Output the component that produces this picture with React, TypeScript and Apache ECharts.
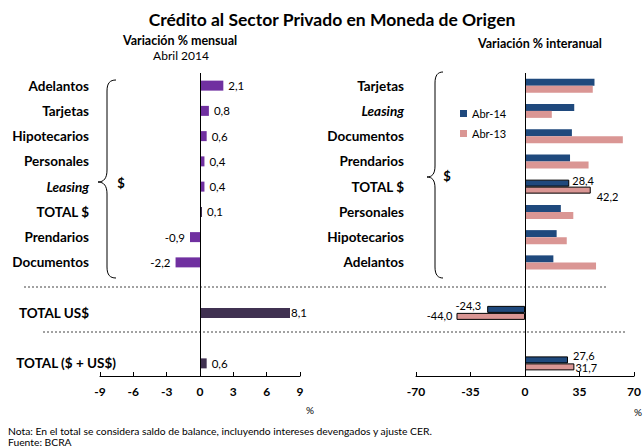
import React, { useEffect, useRef } from "react";
import * as echarts from "echarts";

const FONT = "Lato, 'Noto Sans', sans-serif";

const leftCategories = ["Adelantos", "Tarjetas", "Hipotecarios", "Personales", "Leasing", "TOTAL $", "Prendarios", "Documentos", "gap1", "TOTAL US$", "gap2", "TOTAL ($ + US$)"];
const leftValues = [2.1, 0.8, 0.6, 0.4, 0.4, 0.1, -0.9, -2.2, null, 8.1, null, 0.6];

const rightCategories = ["Tarjetas", "Leasing", "Documentos", "Prendarios", "TOTAL $", "Personales", "Hipotecarios", "Adelantos", "gap1", "TOTAL US$", "gap2", "TOTAL ($ + US$)"];
const abr14Values = [44.6, 31.6, 30.1, 28.9, 28.4, 23.0, 20.3, 18.2, null, -24.3, null, 27.6];
const abr13Values = [43.5, 17.2, 62.8, 40.8, 42.2, 31.0, 26.8, 45.6, null, -44.0, null, 31.7];

const leftTicks = { min: -9, max: 9, interval: 3 };
const rightTicks = { min: -70, max: 70, interval: 35 };

const PURPLE = "#7030A0";
const DARK = "#403151";
const NAVY = "#1F497D";
const PINK = "#DA9694";

const fmt = (v: number) => v.toFixed(1).replace(".", ",");

echarts.graphic.registerShape(
  "braceL",
  echarts.graphic.extendPath(
    "M 116 80 C 110 80 107 83 107 91 L 107 170 C 107 178 104 182 98 182 C 104 182 107 186 107 194 L 107 267 C 107 275 110 278 116 278",
    {}
  )
);
echarts.graphic.registerShape(
  "braceR",
  echarts.graphic.extendPath(
    "M 443 72 C 438 72 435 75 435 83 L 435 166 C 435 174 432 177 427 177 C 432 177 435 180 435 188 L 435 267 C 435 275 438 278 443 278",
    {}
  )
);

export default function App() {
  const ref = useRef<HTMLDivElement>(null);
  useEffect(() => {
    if (!ref.current) return;
    const chart = echarts.init(ref.current, null, { renderer: "svg" });

    const leftData = leftValues.map((v, i) => {
      if (v === null) return null;
      const isTotal = i === 5 || i === 9 || i === 11;
      return {
        value: v,
        itemStyle: { color: isTotal ? DARK : PURPLE },
        label: {
          show: true,
          position: v >= 0 ? "right" : "left",
          distance: i === 9 ? 1 : 5,
        },
      };
    });

    const lblOpts: Record<string, any> = {
      "14-4": { position: "right", distance: 3, offset: [0, -3] },
      "13-4": { position: "right", distance: 6, offset: [0, 6] },
      "14-9": { position: "left", distance: 6, offset: [0, -4] },
      "13-9": { position: "left", distance: 4, offset: [0, -1] },
      "14-11": { position: "right", distance: 5, offset: [0, -4] },
      "13-11": { position: "right", distance: 1, offset: [0, 1] },
    };

    const mkRight = (vals: (number | null)[], key: string, color: string) =>
      vals.map((v, i) => {
        if (v === null) return null;
        const isTotal = i === 4 || i === 9 || i === 11;
        const lo = lblOpts[key + "-" + i];
        return {
          value: v,
          itemStyle: isTotal ? { color, borderColor: "#000", borderWidth: 1 } : { color },
          label: lo ? { show: true, ...lo } : { show: false },
        };
      });

    const CAT_SIZE = 13.5;
    const catLabel = (show: (v: string, i: number) => boolean, margin: number) => ({
      margin,
      fontFamily: FONT,
      fontWeight: "bold",
      fontSize: CAT_SIZE,
      color: "#000",
      formatter: (v: string, i: number) => {
        if (!show(v, i)) return "";
        if (v === "Leasing") return "{i|Leasing}";
        return v;
      },
      rich: {
        i: { fontFamily: FONT, fontWeight: "bold", fontStyle: "italic", fontSize: CAT_SIZE, color: "#000" },
      },
    });

    const valueAxis = (gridIndex: number, t: { min: number; max: number; interval: number }) => ({
      type: "value",
      gridIndex,
      min: t.min,
      max: t.max,
      interval: t.interval,
      splitLine: { show: false },
      axisLine: { show: true, lineStyle: { color: "#000", width: 1 } },
      axisTick: { show: true, inside: true, length: 4, lineStyle: { color: "#000" } },
      axisLabel: { fontFamily: FONT, fontWeight: "bold", fontSize: 12, color: "#000", margin: 9 },
    });

    const zeroLine = {
      silent: true,
      symbol: "none",
      label: { show: false },
      lineStyle: { color: "#000", width: 1, type: "solid" },
      data: [{ xAxis: 0 }],
    };

    const dotted = (x1: number, x2: number, y: number) => ({
      type: "line",
      shape: { x1, y1: y, x2, y2: y },
      style: { stroke: "#444", lineWidth: 1, lineDash: [2, 2] },
      silent: true,
    });

    const valLabel = {
      fontFamily: FONT,
      fontSize: 11.5,
      color: "#000",
      formatter: (p: any) => fmt(p.value),
    };

    chart.setOption({
      animation: false,
      textStyle: { fontFamily: FONT },
      grid: [
        { left: 100, width: 200, top: 73, height: 303 },
        { left: 416, width: 223, top: 73, height: 303 },
      ],
      legend: {
        orient: "vertical",
        left: 460,
        top: 108,
        padding: 0,
        itemGap: 9,
        itemWidth: 7,
        itemHeight: 7,
        icon: "rect",
        textStyle: { fontFamily: FONT, fontSize: 11, color: "#000" },
        data: ["Abr-14", "Abr-13"],
      },
      xAxis: [valueAxis(0, leftTicks), valueAxis(1, rightTicks)],
      yAxis: [
        {
          type: "category",
          gridIndex: 0,
          inverse: true,
          data: leftCategories,
          axisLine: { show: false },
          axisTick: { show: false },
          axisLabel: catLabel((v, i) => i !== 11 && !v.startsWith("gap"), 11),
        },
        {
          type: "category",
          gridIndex: 0,
          position: "left",
          inverse: true,
          data: leftCategories,
          axisLine: { show: false },
          axisTick: { show: false },
          axisLabel: catLabel((v, i) => i === 11, -16),
        },
        {
          type: "category",
          gridIndex: 1,
          inverse: true,
          data: rightCategories,
          axisLine: { show: false },
          axisTick: { show: false },
          axisLabel: catLabel((v, i) => i < 8, 12),
        },
      ],
      series: [
        {
          type: "bar",
          xAxisIndex: 0,
          yAxisIndex: 0,
          barWidth: 10,
          barMinHeight: 2,
          data: leftData,
          label: valLabel,
          markLine: zeroLine,
        },
        {
          name: "Abr-14",
          type: "bar",
          xAxisIndex: 1,
          yAxisIndex: 2,
          barWidth: 7,
          barGap: "0%",
          itemStyle: { color: NAVY },
          data: mkRight(abr14Values, "14", NAVY),
          label: { ...valLabel, fontSize: 11 },
          markLine: zeroLine,
        },
        {
          name: "Abr-13",
          type: "bar",
          xAxisIndex: 1,
          yAxisIndex: 2,
          barWidth: 7,
          barGap: "0%",
          itemStyle: { color: PINK },
          data: mkRight(abr13Values, "13", PINK),
          label: { ...valLabel, fontSize: 11 },
        },
      ],
      graphic: [
        {
          type: "text",
          x: 332,
          y: 19,
          style: {
            text: "Crédito al Sector Privado en Moneda de Origen",
            font: `bold 17.5px ${FONT}`,
            fill: "#000",
            align: "center",
            verticalAlign: "middle",
          },
        },
        {
          type: "text",
          x: 180,
          y: 40,
          style: { text: "Variación % mensual", font: `bold 12.5px ${FONT}`, fill: "#000", align: "center", verticalAlign: "middle" },
        },
        {
          type: "text",
          x: 181,
          y: 55,
          style: { text: "Abril 2014", font: `12px ${FONT}`, fill: "#000", align: "center", verticalAlign: "middle" },
        },
        {
          type: "text",
          x: 540,
          y: 43,
          style: { text: "Variación % interanual", font: `bold 12.5px ${FONT}`, fill: "#000", align: "center", verticalAlign: "middle" },
        },
        { type: "braceL", style: { fill: "none", stroke: "#000", lineWidth: 1 }, silent: true },
        { type: "braceR", style: { fill: "none", stroke: "#000", lineWidth: 1 }, silent: true },
        {
          type: "text",
          x: 121,
          y: 183,
          style: { text: "$", font: `bold 13px ${FONT}`, fill: "#000", align: "center", verticalAlign: "middle" },
        },
        {
          type: "text",
          x: 447,
          y: 176,
          style: { text: "$", font: `bold 13px ${FONT}`, fill: "#000", align: "center", verticalAlign: "middle" },
        },
        dotted(24, 607, 287),
        dotted(43, 625, 332),
        {
          type: "text",
          x: 310,
          y: 410,
          style: { text: "%", font: `10px ${FONT}`, fill: "#000", align: "center", verticalAlign: "middle" },
        },
        {
          type: "text",
          x: 638,
          y: 412,
          style: { text: "%", font: `10px ${FONT}`, fill: "#000", align: "center", verticalAlign: "middle" },
        },
        {
          type: "text",
          x: 8,
          y: 431,
          style: {
            text: "Nota: En el total se considera saldo de balance, incluyendo intereses devengados y ajuste CER.",
            font: `10.3px ${FONT}`,
            fill: "#000",
            align: "left",
            verticalAlign: "middle",
          },
        },
        {
          type: "text",
          x: 8,
          y: 442,
          style: { text: "Fuente: BCRA", font: `10.3px ${FONT}`, fill: "#000", align: "left", verticalAlign: "middle" },
        },
      ],
    });

    return () => chart.dispose();
  }, []);

  return <div ref={ref} style={{ width: 644, height: 448, position: "absolute", left: 0, top: 0 }} />;
}
